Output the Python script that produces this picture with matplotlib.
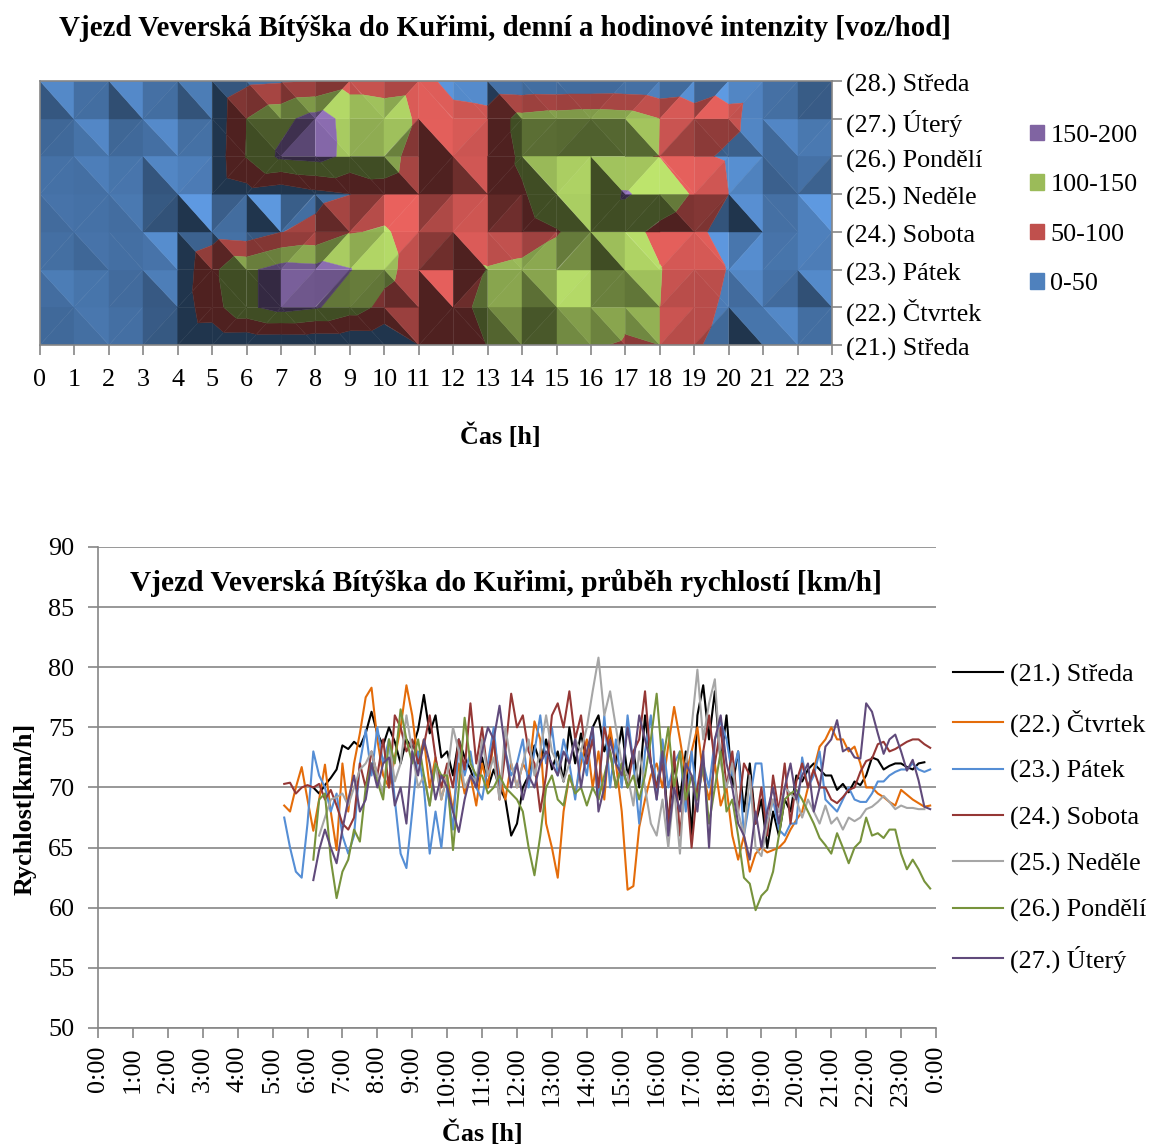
import numpy as np
import matplotlib
matplotlib.use('Agg')
import matplotlib.pyplot as plt
import matplotlib.transforms as mtrans
from matplotlib.collections import PolyCollection
from matplotlib.patches import Patch

plt.rcParams['font.family'] = ['Liberation Serif', 'DejaVu Serif']

W, H = 1149, 1147
GRAY = '#868686'

# intensity by hour, one list per day
hours = list(range(24))
r21 = [12,13,11,10,8,5,3,2,3,4,5,50,62,101,112,118,102,98,100,58,25,36,32,28]
r22 = [14,16,12,12,20,80,140,170,155,125,85,65,88,110,115,135,115,105,100,65,42,38,28,33]
r23 = [14,12,14,15,14,90,140,170,165,152,115,75,60,102,108,118,105,122,102,72,48,36,38,28]
r24 = [13,15,14,15,6,28,20,49,63,97,105,78,85,78,82,97,120,116,88,68,20,30,34,30]
r25 = [14,14,15,13,25,10,28,12,35,49,75,52,72,70,95,130,115,155,128,95,50,26,30,14]
r26 = [12,14,11,13,12,15,103,160,168,138,135,62,90,68,108,112,108,104,99,58,44,30,32,30]
r27 = [9,16,7,15,6,12,100,135,170,135,135,91,75,68,116,125,130,125,100,75,60,32,26,28]
r28 = [14,8,15,8,14,10,40,45,50,80,70,78,25,15,10,8,8,10,5,14,34,36,32,36]
day_labels = ['(21.) Středa', '(22.) Čtvrtek', '(23.) Pátek', '(24.) Sobota',
              '(25.) Neděle', '(26.) Pondělí', '(27.) Úterý', '(28.) Středa']
band_edges = [0, 50, 100, 150, 200]
band_labels = ['0-50', '50-100', '100-150', '150-200']
band_colors = ['#4F81BD', '#C0504D', '#9BBB59', '#8064A2']

# speeds, one value every 10 minutes from the start time of each day
t_st = 6 + 10/60
v_st = [70.0,69.5,70.2,70.8,71.5,
        73.5,73.2,73.8,73.4,74.5,76.3,
        74.5,73.5,75,73.8,72,74,
        73.2,74.8,77.7,74.5,76,72.5,
        73,71,74,72.5,71.5,70,
        72.5,70,71.5,70,69,66,
        67,70,71,73.5,72,74,
        71.5,73,70.5,75,72,74.5,
        72,75,76,73,74.5,72,
        75,71,73,70,76,72,
        70,73,67,72,69,73,
        66,76,78.5,74,78,72,
        76,70,73,68,72,67,
        69,65,68,66,69,68,
        71,70.5,71.5,72,71.5,71,
        71,69.8,70.3,69.6,70.5,70.2,
        71,72.5,72.3,71.5,71.8,72,
        72,71.7,71.5,72,72.1]
t_ct = 5 + 20/60
v_ct = [68.5,68,70,71.7,
        69,66.4,69,71.9,68,64.8,
        72,68,72,74.5,77.5,78.3,
        74,71,70,72.5,75,78.5,
        76,72,74,70,72.5,69,
        71,68,72,69.5,71,68.5,
        72,70,74,71,69,72,
        70,72,71,75.5,74,67,
        65,62.5,68,71,69.5,72,
        74,70,73,69,75,72,
        68,61.5,61.8,66.7,69,71,
        72,70,73.5,76.7,74,71,
        73,75,71,69,72,68.5,
        70,66,64,66,63,64.5,
        65,64.6,64.8,65,65.5,66.5,
        67.3,68,70,71.5,73.4,74,
        75,74,74,73,73.4,72,
        70,70,69.5,69.2,68.8,68.5,
        69.8,69.4,69,68.7,68.4,68.5]
t_pa = 5 + 20/60
v_pa = [67.5,65,63,62.5,
        67,73,71,70,68,69.5,
        66,64.5,66,72,74.8,71,
        75,72,74,69,64.5,63.3,
        68,73,70,64.5,68,65,
        70,66.5,74,71,73,70,
        69,72,75,70,73,71,
        72,74,70,73,76,72,
        75,71,74,72,69,73,
        71,75,69,76,70,74,
        70,76,72,67,73,76,
        69,74,70,72,73,68,
        73,69,72,70,74,75.5,
        74,71,73,66,69,72,
        72,67,69,66.5,66,67,
        67,72.5,70,71,73,69,
        68.5,68,69,70,69,68.8,
        68.8,69.5,70.5,70.5,71,71.3,
        71.5,71.5,72,71.5,71.3,71.5]
t_so = 5 + 20/60
v_so = [70.3,70.4,69.5,70,
        70.2,70,70.3,69,69.8,68.5,
        67,66.5,67.5,72,70,73,
        71,74,70,76,75,73,
        74,72,73.5,76,72.5,70,
        72,70,74,71.5,77,72,
        75,71,74,69,73,77.8,
        75,76,73,72,68,71,
        76,77,75,78,74,76,
        72,74,70,75,73,70,
        72,70,73,74,78,72,
        70,72,67,73,66,71,
        65,70,73,76,72,75,
        70,73,68,72,71,67,
        70,66,71,68,72,67,
        70.5,72,70,71.5,70,70,
        69,68.7,69.2,69.8,70,71.3,
        72.2,72.4,73.6,73.8,73,73.2,
        73.5,73.8,74,74,73.6,73.3]
t_ne = 6 + 20/60
v_ne = [66,67.5,69,69.2,
        69.5,68.5,70,71.5,72,73,
        71,69.5,74,70.5,72,76,
        73,70,71,68.5,72,69,
        71,75,73,70,71,70.5,
        74,71,72.5,69,75,72,
        70,72,74,71,73,76,
        73,72,70.5,72,74,73,
        75,78,80.8,76,78,75,
        72,71,68.5,73,70,67,
        66,69,65,70,64.5,72,
        75,79.8,74,77,79,72,
        70,72,68,66,71,65,
        64.3,67,69,68,70,69.5,
        69,67.5,69,68,67,68.5,
        67,67.5,66.5,67.5,67.2,67.5,
        68.2,68.4,68.8,69.3,68.8,68.2,
        68.5,68.3,68.3,68.2,68.2]
t_po = 6 + 10/60
v_po = [64,69,69.5,64,60.8,
        63,64,66.5,65.5,70,72,
        70.5,69,74,72,76.5,74,
        72,74,71,68.5,72,71,
        71,64.8,70,75.8,72,71,
        71,69.5,70,71,70,69.5,
        69,68,65,62.7,66,70,
        71,69,68.5,71,69.5,70,
        68.5,70,69,71,73,70,
        72,70,71,69,71,74,
        77.8,72,75,70,73,69,
        71,69,72,67,70,73,
        68,69,66,62.5,62,59.8,
        61,61.5,63,66,69,69.5,
        69.8,69,68,67,65.8,65.2,
        64.5,66.2,65,63.7,65,65.5,
        67.5,66,66.2,65.8,66.5,66.5,
        64.5,63.2,64,63.2,62.2,61.6]
t_ut = 6 + 10/60
v_ut = [62.3,64.8,66.5,65,63.7,
        66.5,69,71,68,69,72,
        70,72,72.5,68.5,70,67,
        73,71,74,72,69,71,
        70,68,66.3,69,71,70,
        73,75,74,76.8,73,70,
        72,69,71,70,72,73,
        72,71,73,72,74,70,
        73,75,68,70,74,72,
        71,75,72,76,74,72,
        69,73,66,70,68,72,
        71,68,73,65,74,76,
        72,70,67,66,64,68,
        65,68,70,67,70,72,
        69,71,72,68,70,73.4,
        74,75.6,73,73.3,72.5,72.4,
        77,76.3,74.5,72.8,74,74.4,
        73,71.4,72.3,70.6,68.4,68.2]
speed_labels = day_labels[:7]
speed_starts = [t_st, t_ct, t_pa, t_so, t_ne, t_po, t_ut]
speed_values = [v_st, v_ct, v_pa, v_so, v_ne, v_po, v_ut]
speed_colors = ['#000000', '#E46C0A', '#558ED5', '#953735', '#A6A6A6', '#77933C', '#604A7B']
clock_labels = ['%d:00' % (h % 24) for h in range(25)]


def facet_shade(p):
    # lambert shading of one facet, light from the upper right
    a, b = p[1] - p[0], p[2] - p[0]
    n = np.cross(a * [1, 1, 0.026], b * [1, 1, 0.026])
    if n[2] < 0:
        n = -n
    n = n / np.linalg.norm(n)
    return float(np.clip(1.22 * np.dot(n, [0.49, 0.49, 0.72]), 0.41, 1.22))


def clip_z(p, lo, hi):
    # cut a polygon (x, y, z) to the slice lo <= z <= hi
    for level, sign in ((lo, 1), (hi, -1)):
        out = []
        for i in range(len(p)):
            a, b = p[i], p[(i + 1) % len(p)]
            da, db = sign * (a[2] - level), sign * (b[2] - level)
            if da >= 0:
                out.append(a)
            if da * db < 0:
                out.append(a + (b - a) * da / (da - db))
        p = out
        if not p:
            break
    return p


def frame(ax):
    for s in ax.spines.values():
        s.set_color(GRAY)
        s.set_linewidth(1.2)
    ax.tick_params(color=GRAY, width=1.2, length=7, labelsize=18.8, pad=3)


fig = plt.figure(figsize=(W / 100, H / 100), dpi=100)

# top chart, surface seen from above
ax1 = fig.add_axes([40 / W, 1 - 345 / H, 792 / W, 264 / H])
Z = np.array([r21, r22, r23, r24, r25, r26, r27, r28], dtype=float)
polys, cols = [], []
for j in range(Z.shape[0] - 1):
    for i in range(Z.shape[1] - 1):
        bl = np.array([i, j, Z[j, i]])
        br = np.array([i + 1, j, Z[j, i + 1]])
        tl = np.array([i, j + 1, Z[j + 1, i]])
        tr = np.array([i + 1, j + 1, Z[j + 1, i + 1]])
        # the diagonal runs along the ridge of the cell
        if tl[2] + br[2] >= bl[2] + tr[2]:
            tris = [[tl, bl, br], [tl, tr, br]]
        else:
            tris = [[bl, tl, tr], [bl, br, tr]]
        for tri in tris:
            tri = np.array(tri)
            s = facet_shade(tri)
            for k, c in enumerate(band_colors):
                part = clip_z(list(tri), band_edges[k], band_edges[k + 1])
                if len(part) >= 3:
                    polys.append(np.array(part)[:, :2])
                    cols.append(np.clip(np.array(matplotlib.colors.to_rgb(c)) * s, 0, 1))
ax1.add_collection(PolyCollection(polys, facecolors=cols, edgecolors=cols, linewidths=0.3))
ax1.set_xlim(0, 23)
ax1.set_ylim(0, 7)
ax1.set_xticks(hours)
ax1.set_yticks(range(8))
ax1.set_yticklabels(day_labels)
ax1.yaxis.tick_right()
frame(ax1)
ax1.tick_params(axis='x', pad=10)
# day labels sit 2 px below their ticks
shift = mtrans.ScaledTranslation(0, -2 / 100, fig.dpi_scale_trans)
for lab in ax1.get_yticklabels():
    lab.set_transform(lab.get_transform() + shift)
fig.text(505 / W, 1 - 28 / H, 'Vjezd Veverská Bítýška do Kuřimi, denní a hodinové intenzity [voz/hod]',
         fontsize=20.8, fontweight='bold', ha='center', va='center')
fig.text(500 / W, 1 - 436 / H, 'Čas [h]', fontsize=18.8, fontweight='bold', ha='center', va='center')
handles = [Patch(color=c, label=l) for c, l in zip(band_colors[::-1], band_labels[::-1])]
fig.legend(handles=handles, loc='upper left', bbox_to_anchor=(1006 / W, 1 - 101 / H), frameon=False,
           fontsize=18.8, handlelength=0.55, handleheight=0.55, handletextpad=0.25, labelspacing=1.05)

# bottom chart, speeds
ax2 = fig.add_axes([98 / W, 1 - 1028 / H, 838 / W, 481 / H])
for start, vals, lab, c in zip(speed_starts, speed_values, speed_labels, speed_colors):
    t = start + np.arange(len(vals)) / 6
    ax2.plot(t, vals, color=c, lw=1.5, label=lab)
ax2.set_xlim(0, 24)
ax2.set_ylim(50, 90)
ax2.set_yticks(range(50, 95, 5))
ax2.set_xticks(range(25))
ax2.set_xticklabels(clock_labels, rotation=90)
ax2.grid(axis='y', color=GRAY, lw=1.2)
ax2.set_axisbelow(True)
frame(ax2)
ax2.tick_params(axis='y', pad=10)
ax2.tick_params(axis='x', pad=6)
ax2.spines['top'].set_visible(False)
ax2.spines['right'].set_visible(False)
ax2.set_ylabel('Rychlost[km/h]', fontsize=18.8, fontweight='bold')
ax2.yaxis.set_label_coords((37 - 98) / 838, 0.455)
fig.text(506 / W, 1 - 583 / H, 'Vjezd Veverská Bítýška do Kuřimi, průběh rychlostí [km/h]',
         fontsize=21.2, fontweight='bold', ha='center', va='center')
fig.text(482 / W, 1 - 1133 / H, 'Čas [h]', fontsize=18.8, fontweight='bold', ha='center', va='center')
fig.legend(*ax2.get_legend_handles_labels(), loc='upper left', bbox_to_anchor=(932 / W, 1 - 642 / H),
           frameon=False, fontsize=18.8, handlelength=1.9, handletextpad=0.3, labelspacing=0.87, borderpad=0.3)

fig.savefig('out.png', dpi=100)
